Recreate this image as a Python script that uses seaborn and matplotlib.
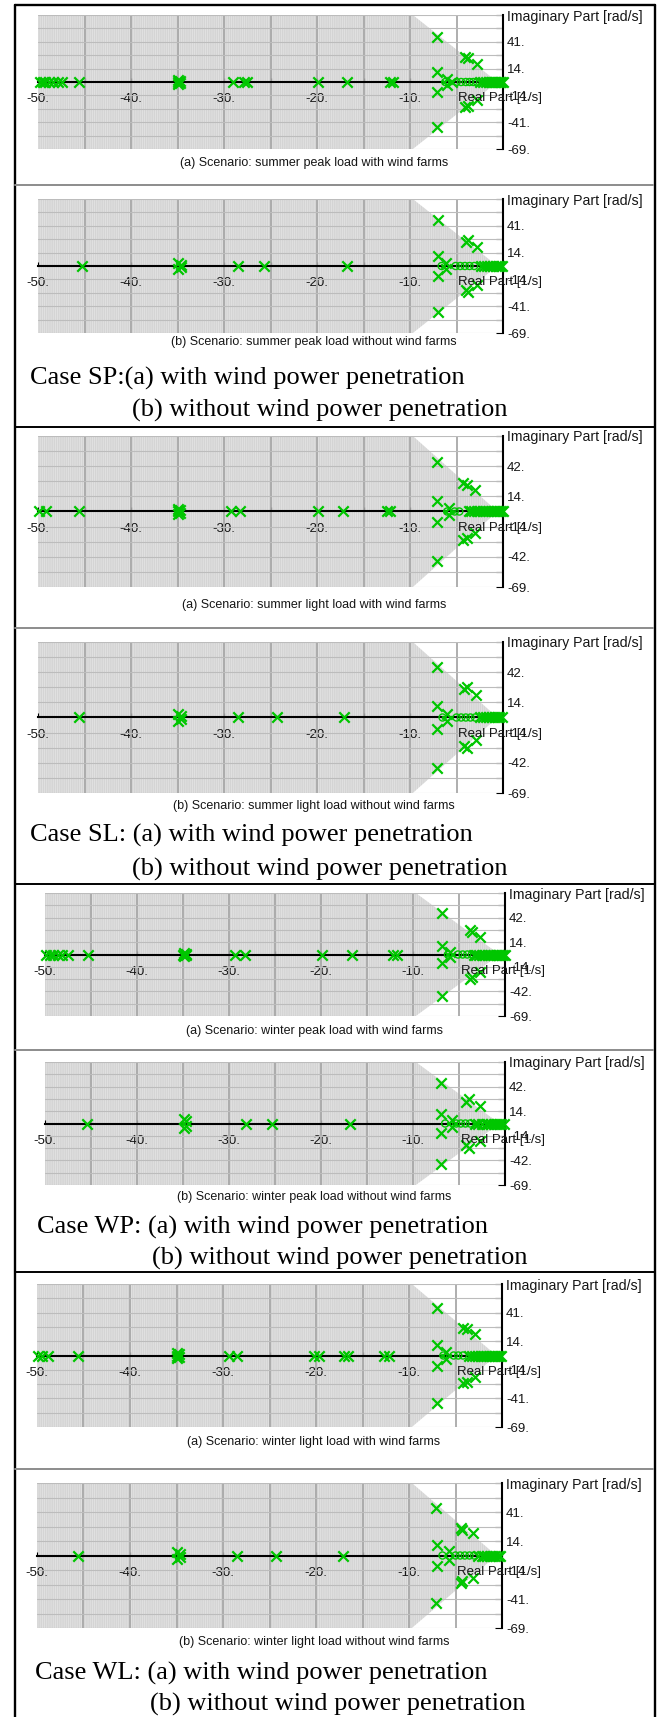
import numpy as np
import pandas as pd
import matplotlib
matplotlib.use("Agg")
import matplotlib.pyplot as plt
from matplotlib.patches import Polygon
from matplotlib.lines import Line2D
import seaborn as sns

sns.set_theme(style="white")
plt.rcParams["font.family"] = ["Liberation Sans", "DejaVu Sans"]
plt.rcParams["hatch.linewidth"] = 0.45
plt.rcParams["axes.unicode_minus"] = False

W, H = 660, 1717
GREEN = "#00c600"

# ---------------------------------------------------------------- axis text
x_tick_vals = [-50, -40, -30, -20, -10]
x_tick_labels = ["-50.", "-40.", "-30.", "-20.", "-10."]
y_labels_41 = ["-69.", "-41.", "-14.", "14.", "41.", "Imaginary Part [rad/s]"]
y_labels_42 = ["-69.", "-42.", "-14.", "14.", "42.", "Imaginary Part [rad/s]"]
x_axis_label = "Real Part [1/s]"

# ---------------------------------------------------------------- eigenvalues
# Case SP (a): summer peak load with wind farms
sp_a_re = [-49.8, -49.5, -49.2, -48.8, -48.4, -47.9, -47.4, -45.6,
           -35.0, -34.9, -34.9, -34.7, -34.7,
           -29.0, -27.9, -27.5, -19.9, -16.8, -12.2, -11.8,
           -7.1, -7.1, -7.1, -7.1, -6.0, -6.0,
           -4.1, -4.1, -3.8, -3.8, -2.8, -2.8,
           -5.5, -2.5, -2.1, -1.8, -1.5, -1.3, -1.1, -0.9, -0.7, -0.5, -0.35, -0.2, -0.05]
sp_a_im = [0, 0, 0, 0, 0, 0, 0, 0,
           0, 1.8, -1.8, 0.8, -0.8,
           0, 0, 0, 0, 0, 0, 0,
           46, -46, 10, -10, 3, -3,
           26, -26, 25, -25, 18.5, -18.5,
           0, 0, 0, 0, 0, 0, 0, 0, 0, 0, 0, 0, 0]
sp_a_zeros = [-6.2, -5.0, -4.5, -4.0, -3.6, -3.2, -2.8]

# Case SP (b): summer peak load without wind farms
sp_b_re = [-45.3, -34.9, -34.9, -34.6, -34.6, -28.5, -25.7, -16.8,
           -7.0, -7.0, -7.0, -7.0, -6.1, -6.1,
           -4.0, -4.0, -3.8, -3.8, -2.8, -2.8,
           -2.4, -2.0, -1.7, -1.4, -1.1, -0.8, -0.5, -0.3, -0.1]
sp_b_im = [0, 3.5, -3.5, 1.5, -1.5, 0, 0, 0,
           47, -47, 10.5, -10.5, 3, -3,
           25, -25, 27, -27, 20, -20,
           0, 0, 0, 0, 0, 0, 0, 0, 0]
sp_b_zeros = [-6.6, -5.1, -4.6, -4.1, -3.6, -3.1]

# Case SL (a): summer light load with wind farms
sl_a_re = [-49.9, -49.1, -45.6, -35.0, -34.9, -34.9, -34.7, -34.7,
           -29.3, -28.3, -19.9, -17.2, -12.5, -12.2,
           -7.1, -7.1, -7.1, -7.1, -5.8, -5.8,
           -4.3, -4.3, -3.9, -3.9, -3.0, -3.0,
           -3.7, -3.4, -3.1, -2.8, -2.5, -2.2, -1.9, -1.6, -1.3, -1.0, -0.8, -0.6, -0.4, -0.2, -0.05]
sl_a_im = [0, 0, 0, 0, 2, -2, 1, -1,
           0, 0, 0, 0, 0, 0,
           46, -46, 10, -10, 3, -3,
           26.5, -26.5, 25, -25, 19.5, -19.5,
           0, 0, 0, 0, 0, 0, 0, 0, 0, 0, 0, 0, 0, 0, 0]
sl_a_zeros = [-6.0, -5.2, -4.7]

# Case SL (b): summer light load without wind farms
sl_b_re = [-45.6, -34.9, -34.9, -34.6, -34.6, -28.5, -24.3, -17.1,
           -7.1, -7.1, -7.1, -7.1, -6.0, -6.0,
           -4.2, -4.2, -3.9, -3.9, -2.9, -2.9,
           -2.5, -2.1, -1.8, -1.5, -1.2, -0.9, -0.6, -0.4, -0.15]
sl_b_im = [0, 3.5, -3.5, 1.5, -1.5, 0, 0, 0,
           47, -47, 10.5, -10.5, 3, -3,
           26, -26, 28, -28, 21, -21,
           0, 0, 0, 0, 0, 0, 0, 0, 0]
sl_b_zeros = [-6.5, -5.0, -4.5, -4.0, -3.5, -3.0]

# Case WP (a): winter peak load with wind farms
wp_a_re = [-49.9, -49.5, -49.1, -48.6, -48.1, -47.5, -45.3,
           -35.0, -34.9, -34.9, -34.7, -34.7,
           -29.4, -28.3, -19.9, -16.6, -12.2, -11.7,
           -6.9, -6.9, -6.9, -6.9, -6.0, -6.0,
           -3.8, -3.8, -3.6, -3.6, -2.7, -2.7,
           -3.4, -3.1, -2.8, -2.5, -2.2, -1.9, -1.6, -1.3, -1.0, -0.8, -0.6, -0.4, -0.2, -0.05]
wp_a_im = [0, 0, 0, 0, 0, 0, 0,
           0, 2, -2, 1, -1,
           0, 0, 0, 0, 0, 0,
           47, -47, 10, -10, 3, -3,
           28, -28, 26, -26, 20, -20,
           0, 0, 0, 0, 0, 0, 0, 0, 0, 0, 0, 0, 0, 0]
wp_a_zeros = [-6.2, -5.1, -4.6, -4.1, -3.6]

# Case WP (b): winter peak load without wind farms
wp_b_re = [-45.4, -34.9, -34.9, -34.7, -34.7, -28.2, -25.3, -16.8,
           -7.0, -7.0, -7.0, -7.0, -5.8, -5.8,
           -4.2, -4.2, -3.9, -3.9, -2.7, -2.7,
           -3.3, -2.9, -2.5, -2.1, -1.8, -1.5, -1.2, -0.9, -0.6, -0.4, -0.15]
wp_b_im = [0, 4.8, -4.8, 3, -3, 0, 0, 0,
           46, -46, 10.5, -10.5, 3.5, -3.5,
           25, -25, 28, -28, 20, -20,
           0, 0, 0, 0, 0, 0, 0, 0, 0, 0, 0]
wp_b_zeros = [-6.5, -5.3, -4.8, -4.3, -3.8]

# Case WL (a): winter light load with wind farms
wl_a_re = [-49.9, -49.5, -48.8, -45.6, -35.0, -34.9, -34.9, -34.7, -34.7,
           -29.4, -28.5, -20.2, -19.7, -17.0, -16.6, -12.7, -12.1,
           -7.0, -7.0, -7.0, -7.0, -6.0, -6.0,
           -4.2, -4.2, -3.8, -3.8, -2.9, -2.9,
           -3.5, -3.2, -2.9, -2.6, -2.3, -2.0, -1.7, -1.4, -1.1, -0.9, -0.7, -0.5, -0.3, -0.1]
wl_a_im = [0, 0, 0, 0, 0, 2, -2, 1, -1,
           0, 0, 0, 0, 0, 0, 0, 0,
           46, -46, 10, -10, 3, -3,
           27, -27, 26, -26, 21, -21,
           0, 0, 0, 0, 0, 0, 0, 0, 0, 0, 0, 0, 0, 0]
wl_a_zeros = [-6.3, -5.2, -4.7, -4.2]

# Case WL (b): winter light load without wind farms
wl_b_re = [-45.6, -34.9, -34.9, -34.6, -34.6, -28.5, -24.3, -17.1,
           -7.1, -7.1, -7.0, -7.0, -5.7, -5.7,
           -4.4, -4.4, -4.3, -4.3, -3.1, -3.1,
           -2.6, -2.2, -1.9, -1.6, -1.3, -1.0, -0.7, -0.45, -0.2]
wl_b_im = [0, 3.5, -3.5, 1.5, -1.5, 0, 0, 0,
           45, -45, 10.4, -10.4, 4, -4,
           26.5, -26.5, 24.5, -24.5, 21, -21,
           0, 0, 0, 0, 0, 0, 0, 0, 0]
wl_b_zeros = [-6.4, -5.0, -4.5, -4.0, -3.5, -3.0]

captions = [
    "(a) Scenario: summer peak load with wind farms",
    "(b) Scenario: summer peak load without wind farms",
    "(a) Scenario: summer light load with wind farms",
    "(b) Scenario: summer light load without wind farms",
    "(a) Scenario: winter peak load with wind farms",
    "(b) Scenario: winter peak load without wind farms",
    "(a) Scenario: winter light load with wind farms",
    "(b) Scenario: winter light load without wind farms",
]
case_line1 = ["Case SP:(a) with wind power penetration",
              "Case SL: (a) with wind power penetration",
              "Case WP: (a) with wind power penetration",
              "Case WL: (a) with wind power penetration"]
case_line2 = "(b) without wind power penetration"

# ---------------------------------------------------------------- layout (px)
panel_boxes = [(38, 15, 503, 149), (38, 199, 503, 333),
               (38, 436, 503, 587), (38, 642, 503, 793),
               (45, 893, 505, 1016), (45, 1062, 505, 1185),
               (37, 1284, 502, 1427), (37, 1483, 502, 1628)]
caption_y = [163, 342, 605, 806, 1031, 1197, 1442, 1642]
case_y = [(378, 410), (835, 869), (1227, 1258), (1673, 1704)]
case_x1 = [30, 30, 37, 35]
case_x2_right = [507, 507, 527, 525]
gray_sep_y = [185, 628, 1050, 1469]
black_sep_y = [427, 884, 1272]

panels = [
    (sp_a_re, sp_a_im, sp_a_zeros, 69, y_labels_41),
    (sp_b_re, sp_b_im, sp_b_zeros, 69, y_labels_41),
    (sl_a_re, sl_a_im, sl_a_zeros, 70, y_labels_42),
    (sl_b_re, sl_b_im, sl_b_zeros, 70, y_labels_42),
    (wp_a_re, wp_a_im, wp_a_zeros, 70, y_labels_42),
    (wp_b_re, wp_b_im, wp_b_zeros, 70, y_labels_42),
    (wl_a_re, wl_a_im, wl_a_zeros, 69, y_labels_41),
    (wl_b_re, wl_b_im, wl_b_zeros, 69, y_labels_41),
]


def fx(x):
    return x / W


def fy(y):
    return 1 - y / H


def px_rect(x0, y0, x1, y1):
    return [fx(x0), fy(y1), (x1 - x0) / W, (y1 - y0) / H]


fig = plt.figure(figsize=(W / 100, H / 100), dpi=100)
fig.patch.set_facecolor("white")

AX_FONT = 9.5
TXT = "#161616"

for i, (re, im, zeros, ymax, ylabels) in enumerate(panels):
    ax = fig.add_axes(px_rect(*panel_boxes[i]))

    poles = pd.DataFrame({"Real": re, "Imag": im})
    zero_df = pd.DataFrame({"Real": zeros, "Imag": [0.0] * len(zeros)})
    sns.scatterplot(data=poles, x="Real", y="Imag", marker="x", color=GREEN,
                    s=56, linewidth=1.6, ax=ax, zorder=6, legend=False,
                    clip_on=False)
    sns.scatterplot(data=zero_df, x="Real", y="Imag", marker="o", color=GREEN,
                    facecolor="none", edgecolor=GREEN, s=26, linewidth=1.0,
                    ax=ax, zorder=5, legend=False, clip_on=False)

    ax.set_xlim(-50, 0)
    ax.set_ylim(-ymax, ymax)
    ax.set_xlabel("")
    ax.set_ylabel("")
    ax.set_facecolor("white")

    # well damped sector (shaded) bounded by a constant damping ratio line
    sector = Polygon([(-50, ymax), (-9.7, ymax), (-0.6, 0), (-9.7, -ymax),
                      (-50, -ymax)], closed=True, facecolor="#e0e0e0",
                     edgecolor="#cdcdcd", hatch="|||||||||", lw=0, zorder=0)
    ax.add_patch(sector)

    step = ymax / 5
    for xv in np.arange(-45, 0, 5):
        ax.axvline(xv, color="#a8a8a8", lw=1.3, zorder=1)
    for k in range(-5, 6):
        if k != 0:
            ax.axhline(k * step, color="#bcbcbc", lw=0.8, zorder=1)

    for s in ("left", "top"):
        ax.spines[s].set_visible(False)
    ax.spines["bottom"].set_position(("data", 0))
    ax.spines["bottom"].set_color("black")
    ax.spines["bottom"].set_linewidth(1.5)
    ax.spines["bottom"].set_zorder(4)
    ax.spines["right"].set_color("black")
    ax.spines["right"].set_linewidth(1.5)
    ax.spines["right"].set_zorder(4)

    ax.set_xticks(x_tick_vals)
    ax.set_xticklabels(x_tick_labels)
    ax.set_xticks(np.arange(-45, 0, 10), minor=True)
    ax.tick_params(axis="x", which="both", direction="in", length=3,
                   width=0.8, color="black", bottom=True, top=False,
                   pad=8, labelsize=AX_FONT, labelcolor=TXT)

    ax.yaxis.tick_right()
    ax.set_yticks([k * step for k in (-5, -3, -1, 1, 3, 5)])
    ax.set_yticklabels(ylabels)
    ax.set_yticks([k * step for k in (-4, -2, 0, 2, 4)], minor=True)
    ax.tick_params(axis="y", which="both", direction="in", length=5,
                   width=0.8, color="black", right=True, left=False,
                   pad=3, labelsize=AX_FONT, labelcolor=TXT)
    ax.get_yticklabels()[-1].set_fontsize(10.2)
    ax.grid(False)

    ax.annotate(x_axis_label, xy=(-4.8, 0), xytext=(0, -7.5),
                textcoords="offset points", ha="left", va="top",
                fontsize=AX_FONT, color=TXT, annotation_clip=False, zorder=7)

    fig.text(fx(314), fy(caption_y[i]), captions[i], ha="center", va="center",
             fontsize=9, color=TXT)

# case descriptions
for j in range(4):
    y1, y2 = case_y[j]
    fig.text(fx(case_x1[j]), fy(y1), case_line1[j], ha="left", va="center",
             fontsize=19, family=["Liberation Serif", "DejaVu Serif"],
             color="black")
    fig.text(fx(case_x2_right[j]), fy(y2), case_line2, ha="right",
             va="center", fontsize=19,
             family=["Liberation Serif", "DejaVu Serif"], color="black")

# frame and separators
LW_FRAME = 1.7
fig.add_artist(Line2D([fx(15), fx(15)], [fy(5), 0], color="black", lw=LW_FRAME))
fig.add_artist(Line2D([fx(655), fx(655)], [fy(5), 0], color="black", lw=LW_FRAME))
fig.add_artist(Line2D([fx(15), fx(655)], [fy(5), fy(5)], color="black", lw=LW_FRAME))
for y in gray_sep_y:
    fig.add_artist(Line2D([fx(15), fx(653)], [fy(y), fy(y)], color="#8c8c8c", lw=1.4))
for y in black_sep_y:
    fig.add_artist(Line2D([fx(15), fx(655)], [fy(y), fy(y)], color="black", lw=1.4))

fig.savefig("out.png", dpi=100)
